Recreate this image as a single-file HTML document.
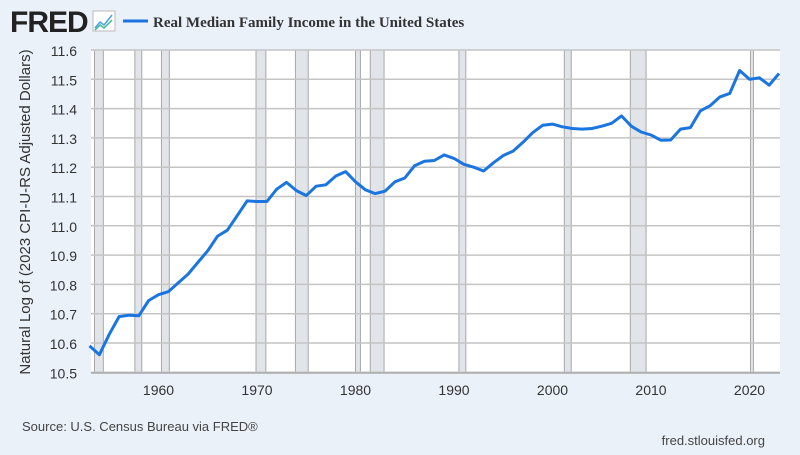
<!DOCTYPE html>
<html><head><meta charset="utf-8"><style>
body{margin:0;width:800px;height:450px;background:#eaf1f9;overflow:hidden;font-family:"Liberation Sans",sans-serif}
</style></head><body>
<svg id="s" width="800" height="450" xmlns="http://www.w3.org/2000/svg">
<text x="10" y="32" font-family="Liberation Sans" font-weight="bold" font-size="30" fill="#222" letter-spacing="-1">FRED</text>
<rect x="93" y="11" width="22" height="20" fill="#fff" stroke="#bbb"/>
<polyline points="95,28 100,22 104,25 112,15" fill="none" stroke="#4a9fe0" stroke-width="1.5"/>
<polyline points="95,30 100,25 104,28 112,20" fill="none" stroke="#3cb89a" stroke-width="1.5"/>
<line x1="123" y1="21" x2="148" y2="21" stroke="#1a75e0" stroke-width="3"/>
<text x="153" y="27" font-family="Liberation Serif" font-weight="bold" font-size="15" fill="#333">Real Median Family Income in the United States</text>
<rect x="91" y="50" width="689" height="323" fill="#fff"/>
<g id="g"></g>
<text transform="translate(30,212) rotate(-90)" text-anchor="middle" font-size="15" fill="#333">Natural Log of (2023 CPI-U-RS Adjusted Dollars)</text>
<text x="22" y="431" font-size="13" fill="#444">Source: U.S. Census Bureau via FRED®</text>
<text x="765" y="445" text-anchor="end" font-size="13" fill="#444">fred.stlouisfed.org</text>
</svg>
<script>
var g=document.getElementById('g'),h='';
function X(y){return 158.5+(y-1960)*9.85}
function Y(v){return 50+(11.6-v)*293}
var rec=[[1953.5,1954.4],[1957.6,1958.3],[1960.3,1961.1],[1969.9,1970.9],[1973.9,1975.2],[1980,1980.5],[1981.5,1982.9],[1990.5,1991.2],[2001.2,2001.9],[2007.9,2009.5],[2020.1,2020.4]];
rec.forEach(function(r){var a=X(r[0]),b=X(r[1]);h+='<rect x="'+a+'" y="50" width="'+(b-a)+'" height="323" fill="#e1e4e8" stroke="#a8a8a8" stroke-width="1"/>';});
for(var i=0;i<=11;i++){var v=11.6-i*0.1,y=Y(v);h+='<line x1="91" x2="780" y1="'+y+'" y2="'+y+'" stroke="#c4c4c4" stroke-width="1.5"/>';h+='<text x="77" y="'+(y+6)+'" text-anchor="end" font-size="14" fill="#333">'+v.toFixed(1)+'</text>';}
for(var yr=1960;yr<=2020;yr+=10){h+='<text x="'+X(yr)+'" y="395" text-anchor="middle" font-size="14" fill="#333">'+yr+'</text>';}
h+='<line x1="91" x2="780" y1="373" y2="373" stroke="#aaa" stroke-width="1.5"/>';
var d=[10.59,10.56,10.63,10.69,10.695,10.693,10.745,10.765,10.775,10.805,10.835,10.875,10.915,10.965,10.985,11.035,11.085,11.083,11.083,11.125,11.148,11.12,11.103,11.135,11.14,11.17,11.185,11.15,11.123,11.11,11.118,11.15,11.163,11.205,11.22,11.223,11.242,11.23,11.21,11.2,11.187,11.215,11.24,11.255,11.285,11.318,11.343,11.347,11.338,11.332,11.33,11.332,11.34,11.35,11.375,11.34,11.32,11.31,11.292,11.293,11.33,11.335,11.392,11.41,11.44,11.452,11.53,11.5,11.505,11.48,11.52];
var p=d.map(function(v,i){return X(1953+i).toFixed(1)+','+Y(v).toFixed(1)}).join(' ');
h+='<polyline points="'+p+'" fill="none" stroke="#1a75e0" stroke-width="3" stroke-linejoin="round"/>';
g.innerHTML=h;
</script>
</body></html>
